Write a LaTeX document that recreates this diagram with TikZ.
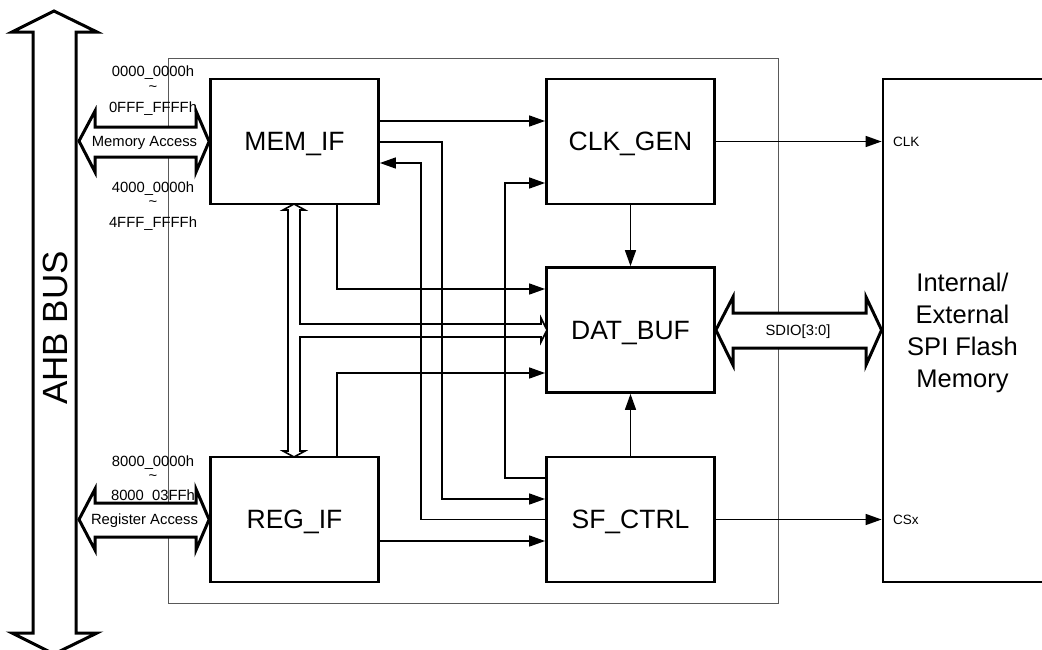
\documentclass[tikz,border=0pt]{standalone}
\usepackage{fontspec}
\setmainfont{Liberation Sans}
\usetikzlibrary{arrows.meta,calc}
\tikzset{
  blk/.style={draw, line width=2.8pt, fill=white, minimum width=168pt, minimum height=125pt, inner sep=0pt, text depth=0pt, font=\fontsize{26.5}{30}\selectfont},
  conn/.style={line width=1.5pt},
  arr/.style={conn, -{Triangle[length=16pt,width=11pt]}},
  txt/.style={inner sep=0pt, text depth=0pt},
  small/.style={txt, font=\fontsize{14.8}{16}\selectfont},
  pin/.style={txt, anchor=west, font=\fontsize{13.5}{15}\selectfont},
  bigarrow/.style={draw, line width=3pt, fill=white, line join=miter},
  hollow/.style={draw, line width=1.6pt, fill=white, line join=miter},
  frame/.style={draw=black!65, line width=1pt, inner sep=0pt}
}
\begin{document}
\begin{tikzpicture}[x=1pt,y=-1pt]
\clip (0,0) rectangle (1042,649);
\fill[white] (0,0) rectangle (1042,649);

% outer frame
\node[frame, minimum width=610pt, minimum height=545pt] (core) at (473,330.5) {};

% AHB bus
\draw[bigarrow] (54,11) -- (97,32) -- (76,32) -- (76,633) -- (97,633) -- (54,654) -- (12,633) -- (33,633) -- (33,32) -- (12,32) -- cycle;
\node[txt, rotate=90, font=\fontsize{35}{40}\selectfont] (ahb) at (55,328) {AHB BUS};

% blocks
\node[blk] (mem) at (294.5,141.5) {MEM\_IF};
\node[blk] (clk) at (630.5,141.5) {CLK\_GEN};
\node[blk] (dat) at (630.5,330) {DAT\_BUF};
\node[blk] (sf)  at (630.5,519.5) {SF\_CTRL};
\node[blk] (reg) at (294.5,519.5) {REG\_IF};
\node[draw, line width=2.8pt, minimum width=167pt, minimum height=503pt, inner sep=0pt] (flash) at (966.5,330.5) {};
\node[txt, align=center, font=\fontsize{25.5}{32}\selectfont] (flashtxt) at (962.5,330) {Internal/\\External\\SPI Flash\\Memory};

% memory access
\draw[bigarrow] (79,141) -- (95,111) -- (95,127) -- (196,127) -- (196,111) -- (mem.west) -- (196,172) -- (196,157) -- (95,157) -- (95,172) -- cycle;
\node[small] (mema) at (144.5,141) {Memory Access};
\node[small] (a1) at (153,71) {0000\_0000h};
\node[small] (a2) at (153,89) {\char`~};
\node[small] (a3) at (153,107) {0FFF\_FFFFh};
\node[small] (a4) at (153,187) {4000\_0000h};
\node[small] (a5) at (153,204) {\char`~};
\node[small] (a6) at (153,222) {4FFF\_FFFFh};

% register access
\draw[bigarrow] (79,519.5) -- (95,489) -- (95,503) -- (196,503) -- (196,489) -- (reg.west) -- (196,550) -- (196,537) -- (95,537) -- (95,550) -- cycle;
\node[small] (rega) at (144.5,519) {Register Access};
\node[small] (b1) at (153,461) {8000\_0000h};
\node[small] (b2) at (153,478) {\char`~};
\node[small] (b3) at (153,495) {8000\_03FFh};

% SDIO
\draw[bigarrow] (dat.east) -- (733,297) -- (733,313) -- (866,313) -- (866,297) -- (flash.west |- dat.east) -- (866,365) -- (866,348) -- (733,348) -- (733,365) -- cycle;
\node[small] (sdio) at (798,330) {SDIO[3:0]};

% hollow bus between MEM_IF, REG_IF and DAT_BUF
\draw[hollow] (288,451) -- (288,210) -- (283,210) -- (294,204) -- (305,210) -- (300,210) -- (300,324)
  -- (541,324) -- (541,318) -- (547,330) -- (541,342) -- (541,337) -- (300,337) -- (300,451)
  -- (305,451) -- (294,457) -- (283,451) -- cycle;

% connectors
\draw[arr] ([yshift=20.5pt]mem.east) -- ([yshift=20.5pt]clk.west);
\draw[arr] ([yshift=-0.5pt]mem.east) -- (442,142) -- (442,499) -- ([yshift=20.5pt]sf.west);
\draw[arr] (sf.west) -- (421,519.5) -- (421,163) -- ([yshift=-21.5pt]mem.east);
\draw[arr] ([yshift=41.5pt]sf.west) -- (505,478) -- (505,183) -- ([yshift=-41.5pt]clk.west);
\draw[arr] ([xshift=42.5pt]mem.south) -- (337,289) -- ([yshift=41pt]dat.west);
\draw[arr] ([xshift=42.5pt]reg.north) -- (337,373) -- ([yshift=-43pt]dat.west);
\draw[arr] ([yshift=-21.5pt]reg.east) -- ([yshift=-21.5pt]sf.west);
\draw[arr] (clk.south) -- (dat.north);
\draw[arr] (sf.north) -- (dat.south);
\draw[arr] (clk.east) -- (flash.west |- clk.east);
\draw[arr] (sf.east) -- (flash.west |- sf.east);
\node[pin] (clkl) at (893,142) {CLK};
\node[pin] (csl) at (893,520) {CSx};
\end{tikzpicture}
\end{document}
